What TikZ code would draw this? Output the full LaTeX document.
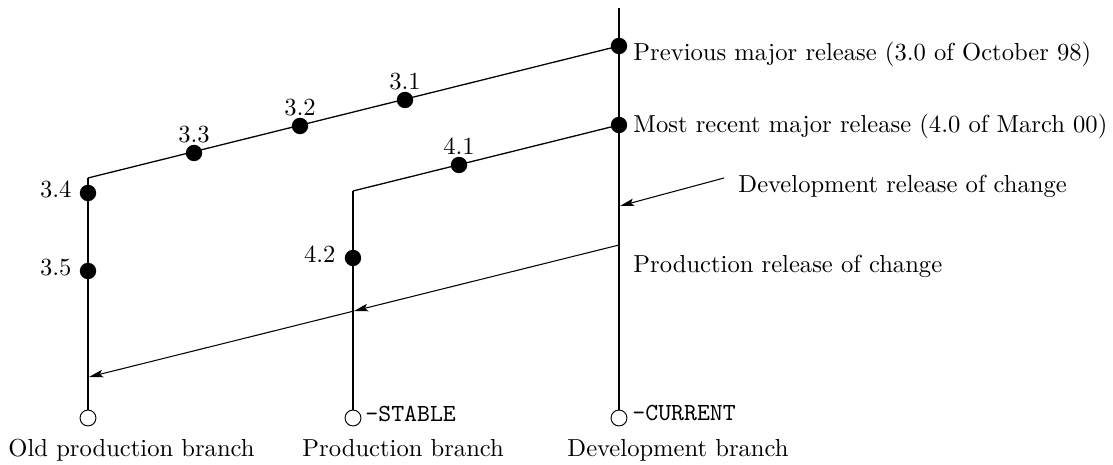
\documentclass[tikz,border=0pt]{standalone}
\usepackage{fontspec}
\usetikzlibrary{arrows.meta}
\begin{document}
\begin{tikzpicture}[x=0.427pt,y=-0.427pt,
 every node/.style={font=\fontsize{10.5}{12.6}\selectfont},
 dot/.style={circle,fill=black,inner sep=0pt,minimum size=7pt},
 endc/.style={circle,draw,line width=0.4pt,inner sep=0pt,minimum size=6.8pt},
 branch/.style={line width=0.9pt},
 link/.style={line width=0.55pt},
 arr/.style={line width=0.45pt,-{Stealth[length=6pt,width=3.2pt,inset=1.2pt]}},
 lbl/.style={inner sep=0pt,anchor=base west},
 lblr/.style={inner sep=0pt,anchor=base east},
 num/.style={inner sep=0pt,anchor=base},
 tt/.style={font=\fontsize{10.5}{12.6}\selectfont\ttfamily}]
\useasboundingbox (0,0) rectangle (1113,465);
% release dots
\node[dot] (r30) at (619,46) {};
\node[dot] (r40) at (619,125) {};
\node[dot] (r31) at (405,100) {};
\node[dot] (r32) at (300,126) {};
\node[dot] (r33) at (194,153) {};
\node[dot] (r34) at (88,193) {};
\node[dot] (r35) at (88,271) {};
\node[dot] (r41) at (459,165) {};
\node[dot] (r42) at (353,258) {};
% branch ends
\node[endc] (eold) at (88,418) {};
\node[endc] (eprod) at (353,418) {};
\node[endc] (edev) at (619,418) {};
\coordinate (dtop) at (619,8);
\coordinate (oldtop) at (88,178);
\coordinate (prodtop) at (353,191);
% branches
\draw[branch] (dtop) -- (edev.north);
\draw[branch] (oldtop) -- (eold.north);
\draw[branch] (prodtop) -- (eprod.north);
\draw[link] (r30.center) -- (oldtop);
\draw[link] (r40.center) -- (prodtop);
% change arrows
\coordinate (devfrom) at (724,178);
\coordinate (devto) at (620,206);
\draw[arr] (devfrom) -- (devto);
\coordinate (pfrom) at (619,245);
\coordinate (pmid) at (354,311);
\coordinate (pend) at (89,377);
\draw[arr] (pfrom) -- (pmid);
\draw[arr] (pmid) -- (pend);
% labels
\node[lbl] (t30) at (633,61) {Previous major release (3.0 of October 98)};
\node[lbl] (t40) at (633,133) {Most recent major release (4.0 of March 00)};
\node[lbl] (tdev) at (738,193) {Development release of change};
\node[lbl] (tprod) at (633,273) {Production release of change};
\node[num] (n31) at (405,90) {3.1};
\node[num] (n32) at (300,116) {3.2};
\node[num] (n33) at (194,143) {3.3};
\node[num] (n41) at (459,155) {4.1};
\node[lblr] (n34) at (72,198) {3.4};
\node[lblr] (n35) at (72,276) {3.5};
\node[lblr] (n42) at (336,263) {4.2};
\node[lbl,tt] (tstable) at (365,422) {-STABLE};
\node[lbl,tt] (tcurrent) at (632,421) {-CURRENT};
\node[lbl] (bold) at (8,457) {Old production branch};
\node[lbl] (bprod) at (302,457) {Production branch};
\node[lbl] (bdev) at (567,457) {Development branch};
\end{tikzpicture}
\end{document}
